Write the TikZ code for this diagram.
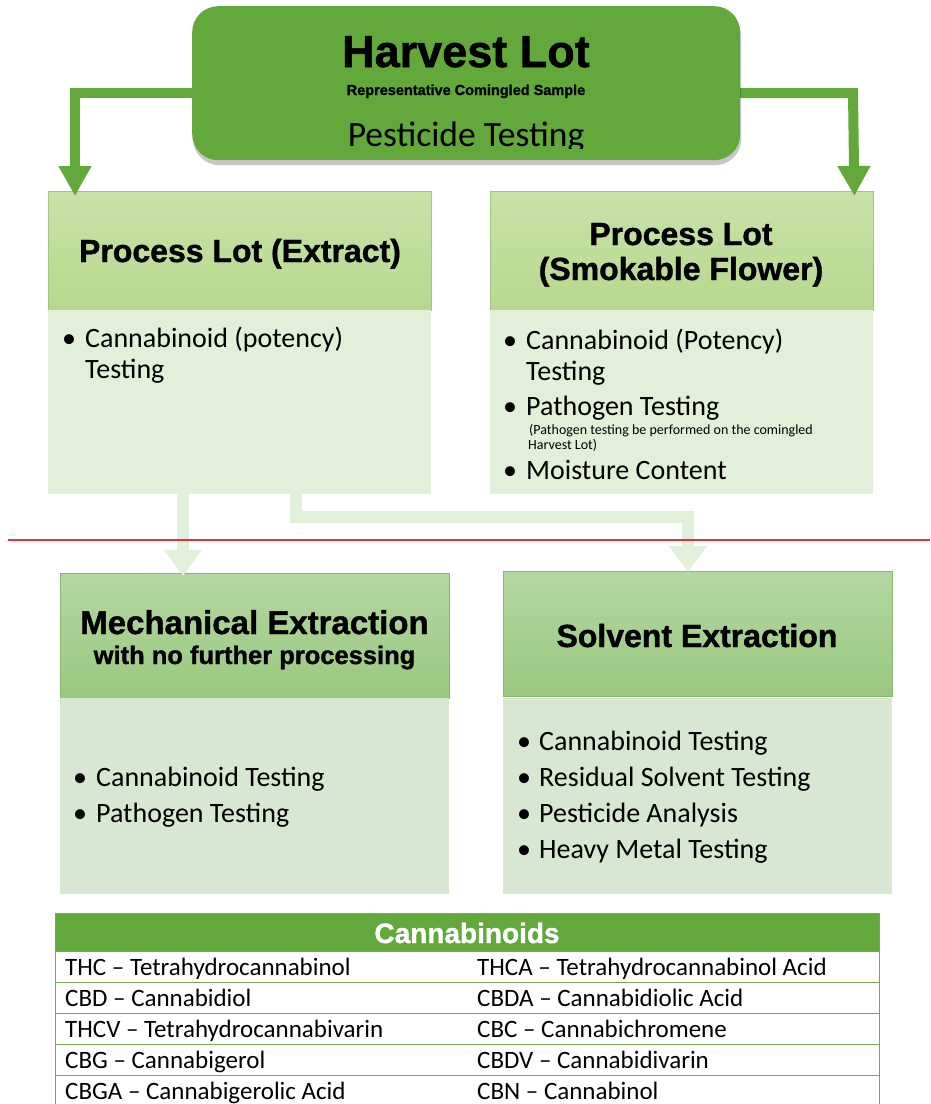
\documentclass[tikz,border=0pt]{standalone}
\usepackage{fontspec}
\setmainfont{Carlito}
\newfontfamily\hf{Liberation Sans}[FakeBold=1.2]
\usetikzlibrary{arrows.meta,shadows}
\definecolor{dgreen}{RGB}{99,168,58}
\definecolor{hdtop}{RGB}{200,226,168}
\definecolor{hdbot}{RGB}{182,217,142}
\definecolor{pbody}{RGB}{226,239,217}
\definecolor{mhtop}{RGB}{180,215,162}
\definecolor{mhbot}{RGB}{153,200,127}
\definecolor{mbody}{RGB}{215,231,209}
\definecolor{redline}{RGB}{222,52,52}
\definecolor{tline}{RGB}{112,173,71}
\tikzset{
  fs/.style={font=\fontsize{#1}{#1}\selectfont},
  hfs/.style={font=\hf\bfseries\fontsize{#1}{#1}\selectfont},
  bigarrow/.style={draw=dgreen,line width=10pt,-{Triangle[width=31pt,length=30pt]},color=dgreen},
  lightarrow/.style={draw=pbody,line width=12pt,-{Triangle[width=36pt,length=26pt]},color=pbody},
  phead/.style={anchor=north west,inner sep=0pt,minimum width=383pt,minimum height=119pt,top color=hdtop,bottom color=hdbot,draw=hdbot!90!black,line width=0.4pt},
  pbox/.style={anchor=north west,inner sep=0pt,minimum width=383pt,minimum height=184pt,fill=pbody},
  mhead/.style={anchor=north west,inner sep=0pt,minimum width=389pt,minimum height=125pt,top color=mhtop,bottom color=mhbot,draw=mhbot!90!black,line width=0.4pt},
  mbox/.style={anchor=north west,inner sep=0pt,minimum width=389pt,minimum height=196pt,fill=mbody},
  txt/.style={anchor=base west,inner sep=0pt,fs=#1},
  ctr/.style={anchor=base,inner sep=0pt,align=center},
  row/.style={anchor=north west,inner sep=0pt,minimum width=824pt,minimum height=31pt,draw=tline,line width=1pt},
}
\begin{document}
\begin{tikzpicture}[x=1pt,y=-1pt]
\useasboundingbox[fill=white] (0,0) rectangle (930,1104);

% connectors from harvest lot
\coordinate (lcorner) at (75,93);
\coordinate (rcorner) at (853,93);
\node[phead] (ple) at (48,191) {};
\node[phead] (plf) at (490,191) {};
\node[pbox] (pleb) at (48,310) {};
\node[pbox] (plfb) at (490,310) {};
\draw[bigarrow] (300,93) -- (lcorner) -- ([xshift=27pt,yshift=-5pt]ple.north west);
\draw[bigarrow] (640,93) -- (rcorner) -- ([xshift=-19pt,yshift=-5pt]plf.north east);

% harvest lot
\node[anchor=north west,inner sep=0pt,minimum width=548pt,minimum height=154pt,rounded corners=26pt,fill=dgreen,
  drop shadow={shadow xshift=1pt,shadow yshift=-5pt,fill=black,opacity=0.22}] (harvest) at (192,6) {};
\node[ctr,hfs=45] (htitle) at (466,67) {Harvest Lot};
\node[ctr,hfs=14.5] (hsub) at (466,95) {Representative Comingled Sample};
\begin{scope}
\clip (192,6) rectangle (740,148);
\node[ctr,fs=35.5] (hpest) at (466,146) {Pesticide Testing};
\end{scope}

% process lot texts
\node[ctr,hfs=32] (pletitle) at (240,262) {Process Lot (Extract)};
\node[ctr,hfs=32] (plft1) at (681,245) {Process Lot};
\node[ctr,hfs=32] (plft2) at (681,280) {(Smokable Flower)};

\node[txt=28] (b1) at (62,347) {•};
\node[txt=28] (t1) at (85,347) {Cannabinoid (potency)};
\node[txt=28] (t1b) at (85,378) {Testing};

\node[txt=28] (b2) at (503,349) {•};
\node[txt=28] (t2) at (526,349) {Cannabinoid (Potency)};
\node[txt=28] (t2b) at (526,380) {Testing};
\node[txt=28] (b3) at (503,415) {•};
\node[txt=28] (t3) at (526,415) {Pathogen Testing};
\node[txt=14] (n1) at (529,434) {(Pathogen testing be performed on the comingled};
\node[txt=14] (n2) at (528,449) {Harvest Lot)};
\node[txt=28] (b4) at (503,479) {•};
\node[txt=28] (t4) at (526,479) {Moisture Content};

% lower boxes
\node[mhead] (mech) at (60,573) {};
\node[mbox] (mechb) at (60,698) {};
\node[mhead] (solv) at (503,571) {};
\node[mbox] (solvb) at (503,698) {};

% light arrows
\draw[lightarrow] ([xshift=135pt]pleb.south west) -- ([xshift=123pt,yshift=-3pt]mech.north west);
\draw[lightarrow] ([xshift=248pt]pleb.south west) -- (296,517) -- (688,517) -- ([xshift=185pt,yshift=-1pt]solv.north west);

% red line
\draw[redline,line width=2pt] (8,540) -- (930,540);

\node[ctr,hfs=33] (mt1) at (254.5,634) {Mechanical Extraction};
\node[ctr,hfs=25.5] (mt2) at (254.5,664) {with no further processing};
\node[ctr,hfs=32] (st1) at (697,647) {Solvent Extraction};

\node[txt=28] (mb1) at (73,786) {•};
\node[txt=28] (ma1) at (96,786) {Cannabinoid Testing};
\node[txt=28] (mb2) at (73,822) {•};
\node[txt=28] (ma2) at (96,822) {Pathogen Testing};

\node[txt=28] (sb1) at (517,750) {•};
\node[txt=28] (sa1) at (539,750) {Cannabinoid Testing};
\node[txt=28] (sb2) at (517,786) {•};
\node[txt=28] (sa2) at (539,786) {Residual Solvent Testing};
\node[txt=28] (sb3) at (517,822) {•};
\node[txt=28] (sa3) at (539,822) {Pesticide Analysis};
\node[txt=28] (sb4) at (517,858) {•};
\node[txt=28] (sa4) at (539,858) {Heavy Metal Testing};

% table
\node[anchor=north west,inner sep=0pt,minimum width=824pt,minimum height=38pt,fill=dgreen,draw=tline,line width=1pt] (thead) at (55,913) {};
\node[ctr,hfs=28,text=white] (ttitle) at (467,943) {Cannabinoids};
\node[row] (r1) at (55,951) {};
\node[row] (r2) at (55,982) {};
\node[row] (r3) at (55,1013) {};
\node[row] (r4) at (55,1044) {};
\node[row] (r5) at (55,1075) {};
\node[txt=25] (c11) at (65,975) {THC – Tetrahydrocannabinol};
\node[txt=25] (c12) at (477,975) {THCA – Tetrahydrocannabinol Acid};
\node[txt=25] (c21) at (65,1006) {CBD – Cannabidiol};
\node[txt=25] (c22) at (477,1006) {CBDA – Cannabidiolic Acid};
\node[txt=25] (c31) at (65,1037) {THCV – Tetrahydrocannabivarin};
\node[txt=25] (c32) at (477,1037) {CBC – Cannabichromene};
\node[txt=25] (c41) at (65,1068) {CBG – Cannabigerol};
\node[txt=25] (c42) at (477,1068) {CBDV – Cannabidivarin};
\node[txt=25] (c51) at (65,1099) {CBGA – Cannabigerolic Acid};
\node[txt=25] (c52) at (477,1099) {CBN – Cannabinol};
\end{tikzpicture}
\end{document}
